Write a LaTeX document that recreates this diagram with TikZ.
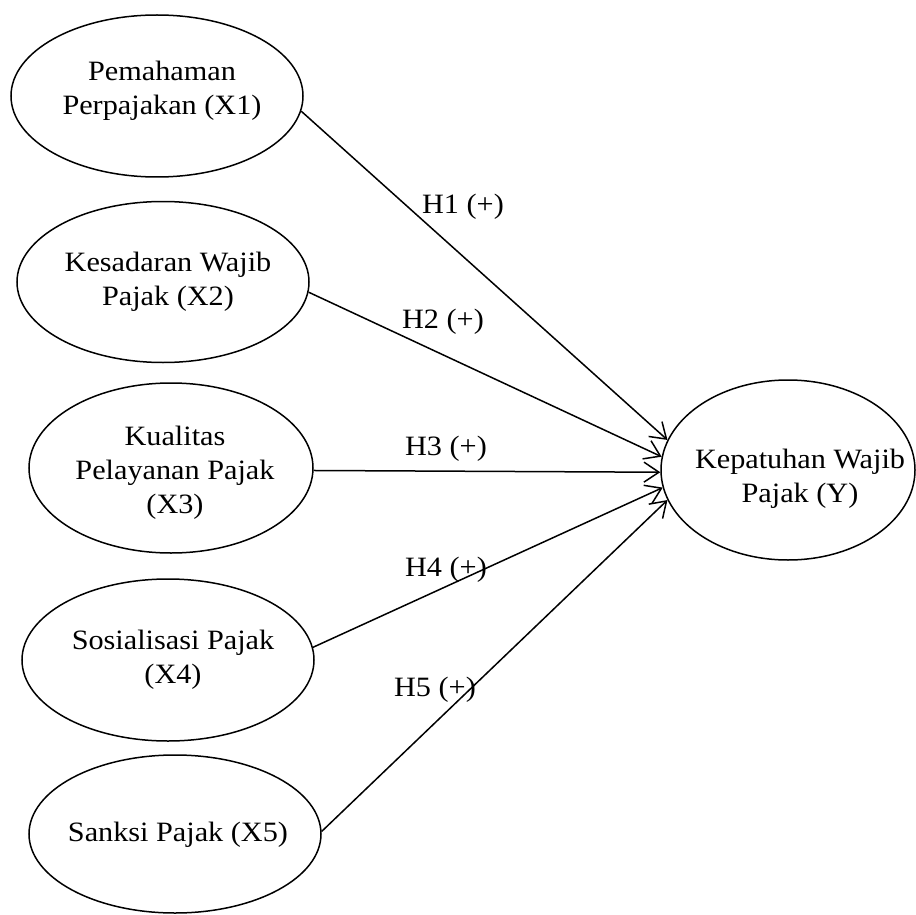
\documentclass[tikz,border=0pt]{standalone}
\usepackage{fontspec}
\setmainfont{Liberation Serif}[FakeStretch=1.08]
\usetikzlibrary{shapes.geometric,arrows.meta}
\tikzset{
  var/.style={draw, ellipse, line width=1.5pt, inner sep=0pt},
  txt/.style={align=center, inner sep=0pt, font=\fontsize{28}{34}\selectfont},
  arr/.style={line width=1.5pt, -{Straight Barb[length=15pt,width=20pt,line width=1.5pt]}},
  hyp/.style={font=\fontsize{28}{34}\selectfont, inner sep=0pt}
}
\begin{document}
\begin{tikzpicture}[x=1pt,y=-1pt]
\useasboundingbox (0,0) rectangle (916,915);
\node[var, minimum width=292pt, minimum height=162pt] (x1) at (157,96) {};
\node[var, minimum width=292pt, minimum height=161pt] (x2) at (163,282) {};
\node[var, minimum width=284pt, minimum height=170pt] (x3) at (171,468) {};
\node[var, minimum width=292pt, minimum height=162pt] (x4) at (168,660) {};
\node[var, minimum width=292pt, minimum height=158pt] (x5) at (175,834) {};
\node[var, minimum width=254pt, minimum height=180pt] (y) at (788,470) {};
\node[txt] (x1t) at (162,91) {Pemahaman\\Perpajakan (X1)};
\node[txt] (x2t) at (168,282) {Kesadaran Wajib\\Pajak (X2)};
\node[txt] (x3t) at (175,473) {Kualitas\\Pelayanan Pajak\\(X3)};
\node[txt] (x4t) at (173,660) {Sosialisasi Pajak\\(X4)};
\node[txt] (x5t) at (178,835) {Sanksi Pajak (X5)};
\node[txt] (yt) at (800,479) {Kepatuhan Wajib\\Pajak (Y)};
\draw[arr] (x1.-6) -- (y.166);
\draw[arr] (x2.-4) -- (y.174);
\draw[arr] (x3.-1) -- (y.181);
\draw[arr] (x4.5) -- (y.188);
\draw[arr] (x5.1) -- (y.194);
\node[hyp] (h1) at (463,207) {H1 (+)};
\node[hyp] (h2) at (443,322) {H2 (+)};
\node[hyp] (h3) at (446,449) {H3 (+)};
\node[hyp] (h4) at (446,570) {H4 (+)};
\node[hyp] (h5) at (435,690) {H5 (+)};
\end{tikzpicture}
\end{document}
